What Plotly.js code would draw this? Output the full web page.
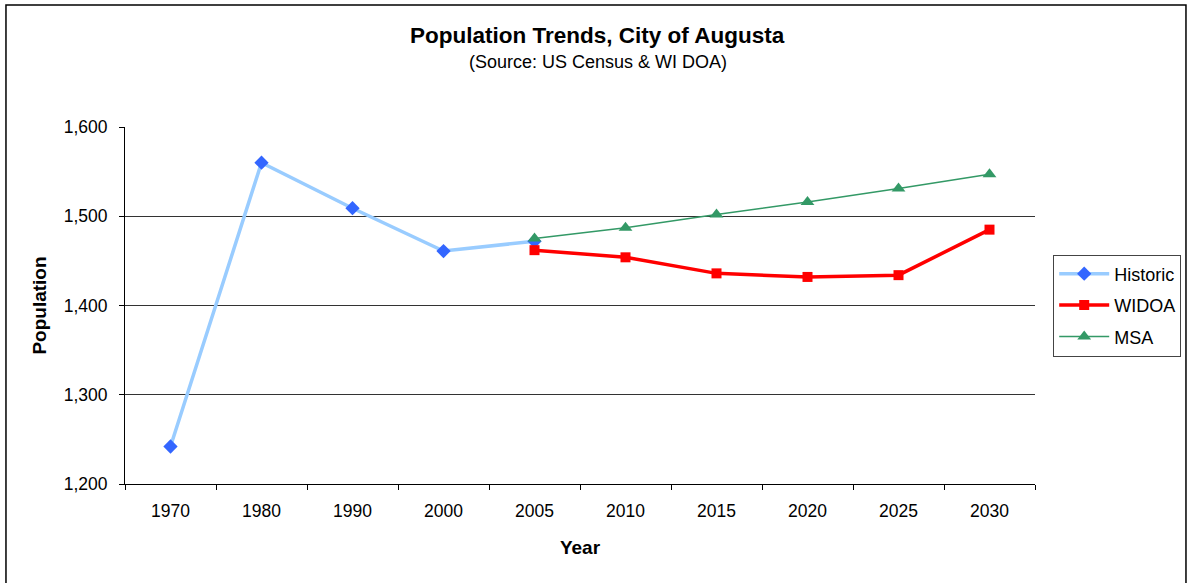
<!DOCTYPE html>
<html>
<head>
<meta charset="utf-8">
<script src="https://cdn.plot.ly/plotly-3.0.1.min.js"></script>
<style>
  html, body { margin: 0; padding: 0; background: #fff; }
  #chart { width: 1187px; height: 583px; }
</style>
</head>
<body>
<div id="chart"></div>
<script>
// Census years and projection years share one category axis
const years = ['1970', '1980', '1990', '2000', '2005', '2010', '2015', '2020', '2025', '2030'];

const historicYears = ['1970', '1980', '1990', '2000', '2005'];
const historicPop = [1242, 1560, 1509, 1461, 1472];

const projYears = ['2005', '2010', '2015', '2020', '2025', '2030'];
const widoaPop = [1462, 1454, 1436, 1432, 1434, 1485];
const msaPop = [1475, 1487, 1502, 1516, 1531, 1547];

const yTicks = [1200, 1300, 1400, 1500, 1600];
const yTickText = ['1,200', '1,300', '1,400', '1,500', '1,600'];

const font = 'Arial, "Liberation Sans", sans-serif';

const traces = [
  {
    name: 'Historic', legendgroup: 'h', x: historicYears, y: historicPop, type: 'scatter', mode: 'lines+markers',
    line: { color: '#99CCFF', width: 3.5 },
    marker: { symbol: 'diamond', size: 11, color: '#3366FF' }
  },
  {
    name: 'WIDOA', legendgroup: 'w', x: projYears, y: widoaPop, type: 'scatter', mode: 'lines+markers',
    line: { color: '#FF0000', width: 3.5 },
    marker: { symbol: 'square', size: 10, color: '#FF0000' }
  },
  {
    name: 'MSA', legendgroup: 'm', x: projYears, y: msaPop, type: 'scatter', mode: 'lines+markers',
    line: { color: '#339966', width: 1.5 },
    marker: { symbol: 'triangle-up', size: 12, color: '#339966' }
  }
];

const layout = {
  width: 1187, height: 583,
  margin: { l: 125, r: 152, t: 127, b: 99, pad: 0, autoexpand: false },
  paper_bgcolor: '#fff', plot_bgcolor: '#fff',
  font: { family: font, size: 17, color: '#000' },
  showlegend: true,
  legend: {
    x: 1.02, xanchor: 'left', y: 0.5, yanchor: 'middle',
    bordercolor: '#444', borderwidth: 1, bgcolor: '#fff',
    font: { family: font, size: 18, color: '#000' },
    tracegroupgap: 5, itemwidth: 50
  },
  xaxis: {
    type: 'category', categoryorder: 'array', categoryarray: years,
    range: [-0.5, 9.5], tickson: 'boundaries',
    ticks: 'outside', ticklen: 5, tickcolor: '#000', tickwidth: 1,
    showline: true, linecolor: '#000', linewidth: 1,
    showgrid: false, zeroline: false, ticklabelstandoff: 11,
    tickfont: { family: font, size: 17.5, color: '#000' },
    title: { text: '<b>Year</b>', font: { family: font, size: 19, color: '#000' }, standoff: 20 }
  },
  yaxis: {
    range: [1200, 1600], tickvals: yTicks, ticktext: yTickText,
    ticks: 'outside', ticklen: 5, tickcolor: '#000', tickwidth: 1,
    showline: true, linecolor: '#000', linewidth: 1,
    showgrid: true, gridcolor: '#333', gridwidth: 1, zeroline: false, ticklabelstandoff: 8,
    tickfont: { family: font, size: 17.5, color: '#000' },
    title: { text: '<b>Population</b>', font: { family: font, size: 19, color: '#000' }, standoff: 12 }
  },
  annotations: [
    {
      text: '<b>Population Trends, City of Augusta</b>', xref: 'paper', yref: 'paper',
      x: 0.5196, y: 1.255, xanchor: 'center', yanchor: 'middle', showarrow: false,
      font: { family: font, size: 22.5, color: '#000' }
    },
    {
      text: '(Source: US Census &amp; WI DOA)', xref: 'paper', yref: 'paper',
      x: 0.5196, y: 1.182, xanchor: 'center', yanchor: 'middle', showarrow: false,
      font: { family: font, size: 18, color: '#000' }
    }
  ],
  shapes: [
    {
      type: 'rect', xref: 'paper', yref: 'paper',
      x0: -0.1308, x1: 1.1659, y0: -0.32, y1: 1.3417,
      line: { color: '#000', width: 1.5 }, fillcolor: 'rgba(0,0,0,0)', layer: 'below'
    }
  ]
};

Plotly.newPlot('chart', traces, layout, { displayModeBar: false, staticPlot: true });
</script>
</body>
</html>
